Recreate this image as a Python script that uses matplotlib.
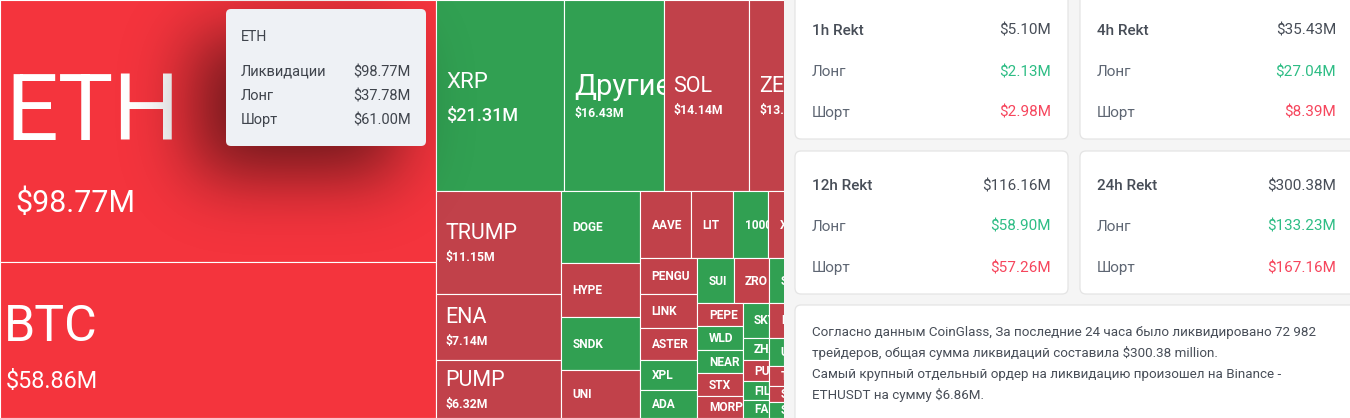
#!/usr/bin/env python3
"""
plot.py
-------
CoinGlass style liquidation heatmap (squarified treemap, ECharts rules)
with the ETH tooltip and the Rekt summary cards on the right.
Saves out.png (1350x418).
"""
import numpy as np
import matplotlib
matplotlib.use('Agg')
import matplotlib.pyplot as plt
from matplotlib.patches import Rectangle, FancyBboxPatch

plt.rcParams['font.family'] = ['Roboto', 'DejaVu Sans']

# ── Data ───────────────────────────────────────────────────────────────────────
COINS = ['ETH', 'BTC', 'XRP', 'Другие', 'SOL', 'ZEC', 'TRUMP', 'ENA', 'PUMP',
         'DOGE', 'HYPE', 'SNDK', 'UNI', 'AAVE', 'LIT', '1000BONK', 'XLM', 'AVAX',
         'PENGU', 'LINK', 'ASTER', 'XPL', 'ADA', 'SUI', 'ZRO', 'SEI', 'TAO',
         'PEPE', 'WLD', 'NEAR', 'STX', 'MORPHO', 'SKY', 'ETC', 'BCH', 'LTC',
         'ZHA', 'PUFFER', 'FIL', 'FARTCOIN', 'USUAL', 'APT', 'ARB', 'OP',
         'TIA', 'STRK', 'SPX', 'INJ', 'WIF', 'ONDO', 'RENDER', 'JUP', 'BNB',
         'TON', 'DOT', 'ATOM', 'HBAR', 'ALGO']
LIQ_M = [98.77, 58.86, 21.31, 16.43, 14.14, 13.40, 11.15, 7.14, 6.32,
         4.94, 3.70, 3.63, 3.29, 2.97, 2.44, 2.04, 1.80, 1.78,
         1.76, 1.72, 1.55, 1.50, 1.40, 1.39, 1.36, 1.20, 1.14,
         0.93, 0.92, 0.91, 0.88, 0.87, 0.82, 0.80, 0.53, 0.52,
         0.52, 0.47, 0.44, 0.41, 0.38, 0.38, 0.37, 0.37,
         0.36, 0.30, 0.29, 0.22, 0.21, 0.20, 0.19, 0.18, 0.17,
         0.16, 0.15, 0.12, 0.10, 0.08]
# 'S' = shorts dominate (red tile), 'L' = longs dominate (green tile)
DOMINANT = ['S', 'S', 'L', 'L', 'S', 'S', 'S', 'S', 'S',
            'L', 'S', 'L', 'S', 'S', 'S', 'L', 'S', 'L',
            'S', 'S', 'S', 'L', 'L', 'L', 'S', 'L', 'S',
            'S', 'L', 'L', 'S', 'S', 'L', 'S', 'L', 'S',
            'L', 'S', 'L', 'L', 'L', 'S', 'L', 'S',
            'S', 'S', 'L', 'L', 'S', 'L', 'S', 'L', 'S',
            'L', 'S', 'L', 'S', 'L']

TIP_COIN = 'ETH'
TIP_LABELS = ['Ликвидации', 'Лонг', 'Шорт']
TIP_VALUES = [98.77, 37.78, 61.00]

PERIODS = ['1h Rekt', '4h Rekt', '12h Rekt', '24h Rekt']
REKT_TOTAL = [5.10, 35.43, 116.16, 300.38]
REKT_LONG = [2.13, 27.04, 58.90, 133.23]
REKT_SHORT = [2.98, 8.39, 57.26, 167.16]
SIDE_LABELS = ['Лонг', 'Шорт']

SUMMARY = [
    'Согласно данным CoinGlass, За последние 24 часа было ликвидировано 72 982',
    'трейдеров, общая сумма ликвидаций составила $300.38 million.',
    'Самый крупный отдельный ордер на ликвидацию произошел на Binance -',
    'ETHUSDT на сумму $6.86M.',
]

# ── Style ──────────────────────────────────────────────────────────────────────
FIG_W, FIG_H = 1350, 418
TREE_W = 830          # full treemap width, the card panel hides the right part
PANEL_X = 784
RED_HOT = '#f4343d'
RED = '#c1414a'
GREEN = '#31a052'
TEXT_DARK = '#474d57'
TEXT_GREY = '#5e6673'
UP = '#2ebd85'
DOWN = '#f6465d'
CAP = 0.9875          # cap height in px per pt at 100 dpi (Roboto)

# min value, name pt, name weight, value pt, value weight, gap px, shift px, dx name, dx value
TIERS = [
    (90, 67.0, 'normal', 22.0, 'normal', 51.0, 12, 5, 15),
    (40, 36.0, 'normal', 16.8, 'normal', 30.0, 7, 4, 6),
    (20, 16.0, 'normal', 13.0, 'medium', 20.0, 1, 11, 11),
    (6, 15.5, 'normal', 8.8, 'bold', 13.3, 0, 10, 10),
]
SMALL_PT, SMALL_DX = 8.6, 11.5


def money(v):
    return f'${v:.2f}M'


def squarify(values, x, y, w, h, ratio=(1 + 5 ** 0.5) / 2):
    """Squarified treemap (ECharts/d3 flavour), y grows downward."""
    scale = w * h / float(sum(values))
    areas = [v * scale for v in values]
    rect = [x, y, w, h]
    boxes = [None] * len(values)
    queue = sorted(range(len(values)), key=lambda i: -values[i])

    def worst(items, s, side):
        a = [areas[i] for i in items]
        f = side * side * ratio
        return max(f * max(a) / (s * s), s * s / (f * min(a)))

    def place(items, s, side, flush):
        along_x = side == rect[2]
        thick = s / side
        room = rect[3] if along_x else rect[2]
        if flush or thick > room:
            thick = room
        pos = rect[0] if along_x else rect[1]
        end = pos + (rect[2] if along_x else rect[3])
        for n, i in enumerate(items):
            step = areas[i] / thick
            if n == len(items) - 1 or end - pos < step:
                step = end - pos
            boxes[i] = (pos, rect[1], step, thick) if along_x else (rect[0], pos, thick, step)
            pos += step
        if along_x:
            rect[1] += thick
            rect[3] -= thick
        else:
            rect[0] += thick
            rect[2] -= thick

    row, row_area, score = [], 0.0, np.inf
    side = min(rect[2], rect[3])
    while queue:
        i = queue[0]
        row.append(i)
        row_area += areas[i]
        s2 = worst(row, row_area, side)
        if s2 <= score:
            queue.pop(0)
            score = s2
        else:
            row.pop()
            row_area -= areas[i]
            place(row, row_area, side, False)
            side = min(rect[2], rect[3])
            row, row_area, score = [], 0.0, np.inf
    if row:
        place(row, row_area, side, True)
    return boxes


def label_tile(ax, tile, name, value, x, y, w, h):
    cy = y + h / 2
    texts = []
    for vmin, npt, nwt, vpt, vwt, gap, shift, dxn, dxv in TIERS:
        if value >= vmin:
            k = 1.0 if name.isascii() else 1.36
            cap_n, cap_v = CAP * npt * k, CAP * vpt
            top = cy - (cap_n + gap + cap_v) / 2 + shift
            texts.append(ax.text(x + dxn, top + cap_n, name, fontsize=npt * k,
                                 fontweight=nwt, color='white', va='baseline'))
            texts.append(ax.text(x + dxv, top + cap_n + gap + cap_v, money(value),
                                 fontsize=vpt, fontweight=vwt, color='white',
                                 va='baseline'))
            break
    else:
        if h >= 11:
            texts.append(ax.text(x + SMALL_DX, cy + CAP * SMALL_PT / 2, name,
                                 fontsize=SMALL_PT, fontweight='bold',
                                 color='white', va='baseline'))
    for t in texts:
        t.set_zorder(3)
        t.set_clip_on(True)
        t.set_clip_path(tile)


def tooltip_shadow(ax, x0, y0, w, h, dx=-30, dy=28, sigma=34, peak=0.56):
    gx = np.arange(x0 - 150, x0 + w + 150)
    gy = np.arange(0, y0 + h + 170)
    X, Y = np.meshgrid(gx + 0.5, gy + 0.5)
    mask = ((X >= x0 + dx) & (X <= x0 + w + dx) &
            (Y >= y0 + dy) & (Y <= y0 + h + dy)).astype(float)
    ker = np.exp(-0.5 * (np.arange(-3 * sigma, 3 * sigma + 1) / sigma) ** 2)
    ker /= ker.sum()
    mask = np.apply_along_axis(lambda r: np.convolve(r, ker, mode='same'), 1, mask)
    mask = np.apply_along_axis(lambda c: np.convolve(c, ker, mode='same'), 0, mask)
    rgba = np.zeros(mask.shape + (4,))
    rgba[..., 3] = peak * mask
    ax.imshow(rgba, extent=(gx[0], gx[-1] + 1, gy[-1] + 1, gy[0]), origin='upper',
              aspect='auto', interpolation='bilinear', zorder=5)


# ── Figure ─────────────────────────────────────────────────────────────────────
fig = plt.figure(figsize=(FIG_W / 100, FIG_H / 100), dpi=100)

ax = fig.add_axes([0, 0, PANEL_X / FIG_W, 1])
boxes = squarify(LIQ_M, 0, 0, TREE_W, FIG_H)
for name, val, dom, (x, y, w, h) in zip(COINS, LIQ_M, DOMINANT, boxes):
    if x >= PANEL_X:
        continue
    if dom == 'S':
        color = RED_HOT if val >= 40 else RED
    else:
        color = GREEN
    tile = Rectangle((x, y), w, h, facecolor=color, edgecolor='white',
                     linewidth=0.8, zorder=1)
    ax.add_patch(tile)
    label_tile(ax, tile, name, val, x, y, w, h)

# tooltip over ETH
TIP = (226, 9, 200, 137)
tooltip_shadow(ax, *TIP)
ax.add_patch(FancyBboxPatch(TIP[:2], TIP[2], TIP[3],
                            boxstyle='round,pad=0,rounding_size=5',
                            facecolor='#eef1f5', edgecolor='none', zorder=6))
ax.text(TIP[0] + 15, 40.7, TIP_COIN, fontsize=10.2, color='#3f444c',
        va='baseline', zorder=7)
for n, (lab, v) in enumerate(zip(TIP_LABELS, TIP_VALUES)):
    yb = 76 + 24 * n
    ax.text(TIP[0] + 15, yb, lab, fontsize=10.5, color='#3f444c',
            va='baseline', zorder=7)
    ax.text(TIP[0] + TIP[2] - 15, yb, money(v), fontsize=10.5, color='#3f444c',
            ha='right', va='baseline', zorder=7)

ax.set_xlim(0, PANEL_X)
ax.set_ylim(FIG_H, 0)
ax.axis('off')

# ── Right panel: Rekt cards ────────────────────────────────────────────────────
px = fig.add_axes([PANEL_X / FIG_W, 0, 1 - PANEL_X / FIG_W, 1])
px.add_patch(Rectangle((PANEL_X, 0), FIG_W - PANEL_X, FIG_H,
                       facecolor='#f5f5f5', edgecolor='none', zorder=0))

CARD_X = [795, 1080]
CARD_W = [273, 300]
CARD_Y = [-12, 151]
CARD_H = [151, 143]
BASE_Y = [35, 190]
STEP_Y = 41


def card(ax, x, y, w, h):
    ax.add_patch(FancyBboxPatch((x, y), w, h, boxstyle='round,pad=0,rounding_size=6',
                                facecolor='white', edgecolor='#e4e4e4',
                                linewidth=0.9, zorder=1))


for i, period in enumerate(PERIODS):
    col, row = i % 2, i // 2
    cx = CARD_X[col]
    card(px, cx, CARD_Y[row], CARD_W[col], CARD_H[row])
    yb = BASE_Y[row]
    rx = cx + 256
    px.text(cx + 17, yb, period, fontsize=11, fontweight='medium',
            color=TEXT_DARK, va='baseline', zorder=2)
    px.text(rx, yb, money(REKT_TOTAL[i]), fontsize=11, color=TEXT_DARK,
            ha='right', va='baseline', zorder=2)
    for n, (lab, v, c) in enumerate(zip(SIDE_LABELS, [REKT_LONG[i], REKT_SHORT[i]],
                                        [UP, DOWN])):
        y2 = yb + STEP_Y * (n + 1)
        px.text(cx + 17, y2, lab, fontsize=11, color=TEXT_GREY,
                va='baseline', zorder=2)
        px.text(rx, y2, money(v), fontsize=11, color=c,
                ha='right', va='baseline', zorder=2)

card(px, 795, 305, 600, 150)
for n, line in enumerate(SUMMARY):
    px.text(812, 336 + 21 * n, line, fontsize=9.6, color=TEXT_DARK,
            va='baseline', zorder=2)

px.set_xlim(PANEL_X, FIG_W)
px.set_ylim(FIG_H, 0)
px.axis('off')

fig.savefig('out.png', dpi=100)
print('[plot] Saved out.png')
